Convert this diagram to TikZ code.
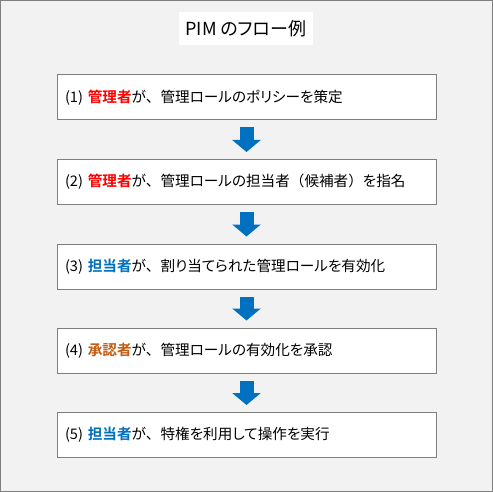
\documentclass[tikz,border=0pt]{standalone}
\usepackage{fontspec}
\setmainfont{Noto Sans CJK JP}[BoldFont=Noto Sans CJK JP Bold, RawFeature=+palt]
\newfontfamily\cjkfull{Noto Sans CJK JP}
\usetikzlibrary{arrows.meta}
\definecolor{bggray}{HTML}{F2F2F2}
\definecolor{framegray}{HTML}{7F7F7F}
\definecolor{arrowblue}{HTML}{0070C0}
\definecolor{roleblue}{HTML}{0070C0}
\definecolor{rolebrown}{HTML}{C55A11}
\definecolor{rolered}{HTML}{FF0000}
\tikzset{
  stepbox/.style={draw=framegray, line width=1pt, fill=white, minimum width=379pt, minimum height=45pt,
    text width=363pt, align=left, inner xsep=8pt, font=\fontsize{14.6pt}{17pt}\selectfont},
  titlebox/.style={fill=white, minimum width=134pt, minimum height=33pt, inner sep=0pt,
    font=\fontsize{18pt}{20pt}\selectfont},
  flowarrow/.style={arrowblue, line width=14pt, -{Triangle[width=28pt,length=12pt]},
    shorten <=7pt, shorten >=7pt}
}
\newcommand{\roleR}[1]{\textcolor{rolered}{\textbf{#1}}}
\newcommand{\roleB}[1]{\textcolor{roleblue}{\textbf{#1}}}
\newcommand{\roleO}[1]{\textcolor{rolebrown}{\textbf{#1}}}
\newcommand{\fw}[1]{{\cjkfull #1}}
\begin{document}
\begin{tikzpicture}[x=1pt,y=-1pt]
\useasboundingbox (0,0) rectangle (493,492);
\draw[fill=bggray, draw=framegray, line width=1.2pt] (0.6,0.6) rectangle (492.4,491.4);
\node[titlebox] (title) at (246,28.5) {PIM のフロー例};
\node[stepbox] (s1) at (246.5,97.5) {(1) \roleR{管理者}が\fw{、}管理ロールのポリシーを策定};
\node[stepbox] (s2) at (246.5,182) {(2) \roleR{管理者}が\fw{、}管理ロールの担当者\fw{（}候補者\fw{）}を指名};
\node[stepbox] (s3) at (246.5,266.5) {(3) \roleB{担当者}が\fw{、}割り当てられた管理ロールを有効化};
\node[stepbox] (s4) at (246.5,350.5) {(4) \roleO{承認者}が\fw{、}管理ロールの有効化を承認};
\node[stepbox] (s5) at (246.5,435) {(5) \roleB{担当者}が\fw{、}特権を利用して操作を実行};
\draw[flowarrow] (s1.south) -- (s2.north);
\draw[flowarrow] (s2.south) -- (s3.north);
\draw[flowarrow] (s3.south) -- (s4.north);
\draw[flowarrow] (s4.south) -- (s5.north);
\end{tikzpicture}
\end{document}
